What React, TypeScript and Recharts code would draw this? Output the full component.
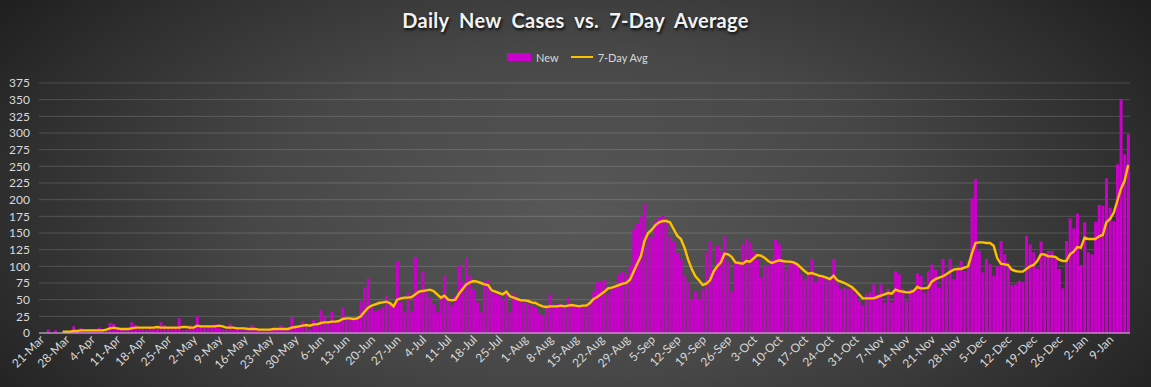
import { ComposedChart, Bar, Line, XAxis, YAxis, CartesianGrid } from 'recharts';

// daily new cases, one value per day starting 21-Mar (7 per row = one week)
const newCases = [
  0, 0, 5, 0, 4, 0, 0,
  1, 2, 10, 2, 7, 3, 4,
  4, 5, 8, 5, 6, 15, 14,
  6, 5, 7, 5, 16, 12, 6,
  6, 5, 9, 7, 6, 16, 12,
  8, 7, 8, 22, 4, 5, 12,
  9, 25, 10, 8, 9, 8, 13,
  10, 6, 5, 14, 5, 5, 4,
  5, 4, 12, 4, 5, 3, 4,
  5, 6, 5, 12, 5, 6, 24,
  8, 9, 17, 11, 6, 20, 10,
  34, 25, 15, 32, 15, 16, 38,
  22, 20, 21, 22, 48, 68, 82,
  38, 33, 35, 38, 57, 46, 42,
  107, 46, 33, 61, 33, 113, 61,
  92, 61, 53, 43, 31, 56, 87,
  53, 41, 56, 102, 76, 112, 86,
  66, 46, 31, 78, 81, 61, 58,
  56, 51, 61, 31, 58, 51, 46,
  46, 43, 41, 38, 30, 26, 38,
  58, 38, 43, 43, 38, 53, 41,
  41, 38, 38, 43, 43, 63, 76,
  78, 80, 58, 66, 71, 88, 93,
  88, 101, 155, 165, 175, 195, 145,
  143, 168, 173, 176, 166, 143, 138,
  120, 111, 86, 76, 51, 63, 51,
  66, 121, 138, 96, 131, 123, 145,
  106, 63, 106, 108, 133, 142, 136,
  123, 111, 83, 101, 101, 111, 141,
  133, 108, 96, 106, 106, 101, 88,
  81, 88, 111, 76, 86, 83, 81,
  81, 111, 73, 66, 68, 66, 71,
  58, 48, 41, 58, 61, 73, 58,
  73, 46, 66, 46, 93, 88, 66,
  48, 66, 66, 90, 85, 61, 93,
  103, 95, 68, 111, 86, 111, 81,
  98, 108, 93, 108, 202, 231, 123,
  91, 111, 103, 86, 100, 138, 118,
  106, 72, 73, 78, 76, 146, 133,
  121, 97, 137, 118, 123, 123, 111,
  96, 67, 138, 172, 157, 179, 102,
  166, 121, 118, 167, 192, 191, 232,
  188, 168, 253, 351, 268, 298,
];

// 7-day average
const avg7: (number | null)[] = [
  null, null, null, null, null, null, 2,
  2, 2, 3, 3, 4, 4, 4,
  4, 4, 4, 4, 5, 7, 8,
  7, 6, 6, 6, 7, 8, 8,
  8, 8, 8, 8, 9, 8, 8,
  8, 8, 8, 8, 9, 9, 8,
  8, 11, 10, 10, 10, 10, 10,
  11, 10, 8, 8, 8, 7, 7,
  7, 6, 6, 6, 5, 5, 5,
  5, 6, 6, 6, 6, 6, 8,
  9, 10, 11, 12, 11, 13, 13,
  15, 16, 16, 17, 17, 18, 21,
  22, 22, 21, 22, 25, 32, 38,
  41, 43, 45, 46, 47, 45, 40,
  50, 52, 53, 53, 54, 58, 62,
  63, 64, 65, 63, 58, 53, 56,
  50, 49, 50, 59, 66, 73, 76,
  78, 77, 75, 73, 72, 64, 62,
  60, 58, 62, 55, 53, 51, 49,
  49, 48, 46, 45, 42, 40, 39,
  40, 40, 40, 41, 40, 41, 42,
  41, 40, 41, 41, 45, 51, 54,
  58, 62, 67, 68, 70, 72, 74,
  75, 80, 92, 104, 115, 138, 150,
  155, 162, 166, 168, 168, 166, 156,
  146, 141, 128, 110, 96, 85, 79,
  72, 74, 79, 92, 100, 106, 119,
  118, 114, 106, 105, 104, 108, 107,
  112, 117, 116, 113, 108, 105, 107,
  109, 108, 107, 107, 106, 103, 98,
  93, 89, 90, 88, 86, 85, 83,
  81, 86, 79, 77, 75, 72, 69,
  64, 58, 52, 52, 52, 52, 54,
  56, 58, 60, 59, 65, 63, 62,
  61, 61, 63, 69, 67, 67, 68,
  77, 81, 83, 85, 88, 92, 95,
  96, 96, 98, 100, 119, 135, 136,
  136, 135, 135, 131, 112, 104, 103,
  102, 95, 93, 92, 92, 96, 100,
  102, 108, 118, 118, 115, 115, 114,
  110, 108, 108, 118, 122, 129, 128,
  143, 141, 141, 141, 145, 147, 166,
  171, 180, 198, 216, 228, 252,
];

const MONTHS = ['Jan', 'Feb', 'Mar', 'Apr', 'May', 'Jun', 'Jul', 'Aug', 'Sep', 'Oct', 'Nov', 'Dec'];
const START = Date.UTC(2020, 2, 21);
const days = newCases.map((_, i) => {
  const d = new Date(START + i * 86400000);
  return d.getUTCDate() + '-' + MONTHS[d.getUTCMonth()];
});

const yTicks = [0, 25, 50, 75, 100, 125, 150, 175, 200, 225, 250, 275, 300, 325, 350, 375];

const data = days.map((day, i) => ({ day, newCases: newCases[i], avg: avg7[i] }));

const FONT = 'Lato, "Open Sans", sans-serif';
const TEXT = '#d9d9d9';

function XTick({ x, y, payload }: any) {
  return (
    <text
      x={x}
      y={y}
      transform={`rotate(-45, ${x}, ${y})`}
      textAnchor="end"
      dy={4}
      dx={2}
      fill={TEXT}
      fontSize={12}
      fontFamily={FONT}
    >
      {payload.value}
    </text>
  );
}

export default function App() {
  return (
    <div
      style={{
        position: 'absolute', left: 0, top: 0, width: 1151, height: 387, overflow: 'hidden',
        background: 'radial-gradient(ellipse 62% 95% at 50% 55%, #585858 0%, #474747 45%, #2e2e2e 80%, #1e1e1e 100%)',
        fontFamily: FONT,
      }}
    >
      <div
        style={{
          position: 'absolute', top: 8, left: 0, width: 1151, textAlign: 'center',
          color: '#f2f2f2', fontSize: 20, fontWeight: 700, wordSpacing: 5, letterSpacing: 0.3,
          textShadow: '1px 2px 3px rgba(0,0,0,0.85)',
        }}
      >
        Daily New Cases vs. 7-Day Average
      </div>
      <div
        style={{
          position: 'absolute', top: 49, left: 507, display: 'flex', alignItems: 'center',
          fontSize: 11, color: TEXT, height: 16,
        }}
      >
        <div style={{ width: 24, height: 8, background: '#cc00cc', marginRight: 5 }} />
        <span>New</span>
        <div style={{ width: 22, height: 2.5, background: '#ffc000', marginLeft: 12, marginRight: 5 }} />
        <span>7-Day Avg</span>
      </div>
      <div style={{ position: 'absolute', left: 0, top: 0 }}>
        <ComposedChart
          width={1151}
          height={387}
          data={data}
          margin={{ top: 83, right: 21, bottom: 4, left: 0 }}
          barCategoryGap="14%"
        >
          <CartesianGrid vertical={false} stroke="rgba(255,255,255,0.16)" />
          <XAxis
            dataKey="day"
            interval={6}
            height={50}
            tickLine={false}
            tickSize={0}
            tickMargin={6}
            axisLine={{ stroke: '#c8c8c8', strokeWidth: 1.2 }}
            tick={<XTick />}
          />
          <YAxis
            width={39}
            domain={[0, 375]}
            ticks={yTicks}
            interval={0}
            axisLine={false}
            tickLine={false}
            tickSize={0}
            tickMargin={9}
            tick={{ fill: TEXT, fontSize: 12, fontFamily: FONT }}
          />
          <Bar dataKey="newCases" fill="#cc00cc" isAnimationActive={false} />
          <Line
            dataKey="avg"
            type="linear"
            stroke="#ffc000"
            strokeWidth={2.4}
            dot={false}
            connectNulls={false}
            isAnimationActive={false}
          />
        </ComposedChart>
      </div>
    </div>
  );
}
